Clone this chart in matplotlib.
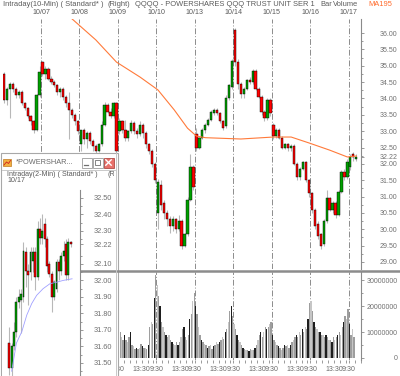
import numpy as np
import matplotlib
matplotlib.use("Agg")
import matplotlib.pyplot as plt
from matplotlib.patches import Rectangle
from matplotlib.ticker import FixedLocator, FuncFormatter
from matplotlib.transforms import Bbox

plt.rcParams['font.family'] = ['Liberation Sans', 'DejaVu Sans']

# ---- main chart: 30-min candles, 10/06 .. 10/17 (13 per day) ----
day_labels = ['10/07', '10/08', '10/09', '10/10', '10/13', '10/14', '10/15', '10/16', '10/17']

opens = [34.75, 33.95, 34.30, 34.45, 34.30, 34.10, 34.20, 33.85, 33.70, 33.45, 33.30, 33.05, 34.10,
         35.10, 34.75, 34.90, 34.60, 34.50, 34.40, 34.20, 34.30, 34.05, 33.85, 33.65, 33.50, 33.30,
         32.60, 33.05, 32.75, 32.95, 32.70, 32.55, 32.40, 32.60, 33.20, 33.80, 33.60, 33.45, 33.85,
         33.00, 33.30, 33.05, 32.80, 33.00, 33.25, 33.00, 32.90, 33.20, 32.95, 32.60, 32.40, 32.00,
         30.50, 31.35, 30.80, 30.50, 30.30, 30.10, 30.30, 30.00, 30.25, 29.50, 29.85, 30.90, 31.90,
         32.90, 32.50, 32.80, 33.05, 33.20, 33.35, 33.55, 33.65, 33.55, 33.30, 33.15, 34.00, 34.35,
         36.10, 35.10, 34.45, 34.15, 34.30, 34.55, 34.50, 34.85, 34.30, 34.05, 33.60, 33.40, 33.95,
         33.20, 32.85, 33.05, 32.80, 32.50, 32.60, 32.50, 32.55, 32.00, 31.60, 31.85, 32.05, 31.50,
         31.10, 30.60, 30.15, 29.85, 29.55, 30.25, 30.95, 30.60, 30.80, 30.45, 31.15, 31.75, 31.60,
         31.90, 32.30, 32.15]
highs = [34.80, 34.35, 34.50, 34.50, 34.35, 34.25, 34.25, 33.90, 33.75, 33.50, 33.35, 34.15, 35.00,
         35.15, 35.00, 34.95, 34.70, 34.55, 34.45, 34.35, 34.35, 34.10, 34.20, 33.70, 33.55, 33.35,
         33.05, 33.10, 33.00, 33.00, 32.75, 32.60, 32.65, 33.30, 33.90, 33.85, 33.70, 33.90, 33.90,
         33.40, 33.35, 33.35, 33.05, 33.35, 33.30, 33.10, 33.30, 33.25, 33.00, 32.65, 32.45, 32.05,
         31.55, 31.50, 30.90, 30.60, 30.40, 30.40, 30.35, 30.45, 30.30, 29.90, 31.00, 32.30, 31.95,
         33.10, 32.85, 33.10, 33.25, 33.40, 33.65, 33.70, 33.70, 33.60, 33.35, 34.10, 34.45, 35.20,
         36.15, 35.20, 34.50, 34.35, 34.60, 34.65, 34.90, 34.90, 34.35, 34.10, 33.65, 34.00, 34.00,
         33.25, 33.10, 33.10, 32.85, 32.65, 32.65, 32.60, 32.60, 32.05, 31.90, 32.10, 32.10, 31.55,
         31.15, 30.65, 30.25, 29.90, 30.30, 31.20, 31.00, 30.85, 30.85, 31.20, 31.80, 31.85, 32.15,
         32.30, 32.35, 32.30]
lows = [33.85, 33.80, 33.40, 34.20, 34.00, 34.00, 33.80, 33.65, 33.40, 33.20, 32.95, 33.00, 34.05,
        34.70, 34.60, 34.55, 34.45, 34.35, 34.10, 34.05, 33.95, 33.75, 32.75, 33.40, 33.20, 32.90,
        32.40, 32.60, 32.50, 32.60, 32.40, 32.30, 32.35, 32.55, 33.15, 33.55, 33.40, 33.40, 32.30,
        32.90, 32.95, 32.70, 32.70, 32.95, 32.90, 32.80, 32.85, 32.80, 32.50, 32.30, 31.90, 31.40,
        30.00, 30.60, 30.30, 30.10, 29.90, 29.95, 29.90, 29.95, 29.40, 29.45, 29.80, 30.85, 31.20,
        32.40, 32.45, 32.75, 32.95, 33.15, 33.30, 33.50, 33.50, 33.25, 33.05, 33.10, 33.95, 34.30,
        35.00, 34.30, 34.00, 34.00, 34.25, 34.45, 34.45, 34.25, 34.00, 33.50, 33.30, 33.35, 33.45,
        32.75, 32.80, 32.75, 32.45, 32.45, 32.40, 32.40, 31.95, 31.50, 31.50, 31.80, 31.45, 31.00,
        30.50, 30.00, 29.70, 29.40, 29.50, 30.20, 30.55, 30.50, 30.35, 30.40, 31.10, 31.50, 31.55,
        31.80, 32.10, 32.10]
closes = [33.95, 34.30, 34.45, 34.30, 34.10, 34.20, 33.85, 33.70, 33.45, 33.30, 33.05, 34.10, 34.80,
          34.75, 34.90, 34.60, 34.50, 34.40, 34.20, 34.30, 34.05, 33.85, 33.65, 33.50, 33.30, 33.00,
          33.05, 32.75, 32.95, 32.70, 32.55, 32.40, 32.60, 33.20, 33.80, 33.60, 33.45, 33.85, 32.40,
          33.30, 33.05, 32.80, 33.00, 33.25, 33.00, 32.90, 33.20, 32.95, 32.60, 32.40, 32.00, 31.50,
          31.45, 30.75, 30.50, 30.30, 30.10, 30.30, 30.00, 30.25, 29.50, 29.85, 30.90, 31.90, 31.30,
          32.50, 32.80, 33.05, 33.20, 33.35, 33.60, 33.65, 33.55, 33.30, 33.10, 34.00, 34.40, 35.15,
          35.10, 34.45, 34.15, 34.30, 34.55, 34.50, 34.85, 34.30, 34.05, 33.60, 33.40, 33.95, 33.55,
          32.85, 33.05, 32.80, 32.50, 32.60, 32.50, 32.55, 32.00, 31.60, 31.85, 32.05, 31.50, 31.10,
          30.60, 30.10, 29.80, 29.50, 30.25, 30.95, 30.60, 30.80, 30.45, 31.15, 31.75, 31.60, 32.05,
          32.20, 32.20, 32.22]

# MA195 (orange line), read at a few bar positions
ma_idx = [23, 31, 38, 46, 52, 57.5, 62, 65, 68, 80, 91, 97, 103, 110, 116, 119]
ma_val = [36.43, 35.79, 35.11, 34.65, 34.26, 33.65, 33.09, 32.85, 32.80, 32.76, 32.82, 32.82,
          32.64, 32.42, 32.21, 32.24]

# volume in millions, 15-min bars, 10/09 .. 10/17 (earlier days sit behind the small window)
vol_first_day = 3
volume_m = [14, 10, 8, 7, 9, 7, 6, 8, 10, 5, 4.5, 3.5, 4, 3.5, 4, 5.5, 4.5, 4, 4, 3.5, 5, 12, 14, 13, 23, 32,
            28, 24, 20, 14, 12, 10, 9, 8, 9, 7, 6, 5.5, 5, 6, 5, 6, 8, 11, 12, 8, 7, 9, 15, 17, 22, 25,
            20, 17, 12, 9, 7, 6, 5.5, 5, 4, 4.5, 5, 3.5, 4.5, 5, 6, 5.5, 6, 7, 8, 7.5, 10, 11, 14, 18, 20, 16,
            13, 11, 9, 7, 6, 5, 4, 3.5, 3, 3, 2.5, 3.5, 3, 3, 4, 5, 7, 9, 10, 8, 10, 12, 11, 12, 13, 14,
            9, 7, 6, 5, 4.5, 4, 3, 4, 5, 4.5, 5, 4, 5, 6, 7, 8, 9, 8, 10, 9, 11, 10, 12, 11, 15, 21,
            22, 18, 14, 12, 11, 10, 10, 9, 9, 8, 9, 8, 7, 7, 6, 8, 7, 8, 9, 10, 9, 12, 14, 16, 15, 19,
            13, 9, 11, 8]

price_ticks = [29.0, 29.5, 30.0, 30.5, 31.0, 31.5, 32.0, 32.22, 32.5, 33.0, 33.5, 34.0, 34.5, 35.0, 35.5, 36.0]
vol_ticks = [0, 10, 20, 30]

# ---- small window: 2-min candles of 10/17 ----
ins_open = [31.62, 31.47, 31.60, 31.69, 31.87, 31.88, 31.90, 32.17, 32.06, 32.05, 32.12, 32.17, 32.02, 32.31,
            32.26, 32.34, 32.25, 32.10, 32.04, 31.90, 31.95, 32.11, 32.06, 32.15, 32.22, 32.03, 32.23]
ins_high = [31.72, 31.62, 31.75, 31.90, 31.95, 31.95, 32.23, 32.20, 32.10, 32.20, 32.20, 32.20, 32.36, 32.38,
            32.40, 32.38, 32.27, 32.12, 32.06, 32.00, 32.13, 32.13, 32.17, 32.24, 32.25, 32.26, 32.24]
ins_low = [31.43, 31.42, 31.58, 31.66, 31.83, 31.68, 31.87, 31.96, 31.85, 32.00, 32.05, 31.94, 32.00, 32.22,
           32.22, 32.20, 32.05, 32.02, 31.81, 31.88, 31.93, 32.00, 32.03, 32.12, 32.00, 32.00, 32.20]
ins_close = [31.47, 31.60, 31.69, 31.87, 31.90, 31.92, 32.18, 32.06, 32.03, 32.17, 32.17, 32.02, 32.31, 32.26,
             32.30, 32.25, 32.09, 32.04, 31.90, 31.99, 32.11, 32.06, 32.15, 32.18, 32.03, 32.23, 32.22]
ins_ma_idx = [1, 3, 5.3, 7.4, 9.5, 11.6, 14.3, 17.2, 20.2, 22.8, 26.6]
ins_ma_val = [31.45, 31.62, 31.69, 31.79, 31.86, 31.91, 31.95, 31.98, 31.99, 32.00, 32.01]
ins_ticks = [31.5, 31.6, 31.7, 31.8, 31.9, 32.0, 32.1, 32.22, 32.3, 32.4, 32.5]

W, H = 400, 376
TXT = '#5a5a5a'
AXC = '#8a8a8a'


def box(l, t, r, b):
    return [l / W, 1 - b / H, (r - l) / W, (b - t) / H]


def candles(ax, x, o, h, l, c, width, min_body):
    o, h, l, c = map(np.asarray, (o, h, l, c))
    up = c >= o
    ax.vlines(x, l, h, color='#b8b8b8', lw=0.8, zorder=2)
    body = np.maximum(np.abs(c - o), min_body)
    cols = np.where(up, '#00a000', '#ff0000')
    ax.bar(x, body, width, bottom=np.minimum(o, c), color=cols,
           edgecolor='black', linewidth=0.3, zorder=3)


def right_axis(ax, fmt, pad):
    ax.yaxis.tick_right()
    for s in ['top', 'left', 'bottom']:
        ax.spines[s].set_visible(False)
    ax.spines['right'].set_color(AXC)
    ax.spines['right'].set_linewidth(0.8)
    ax.tick_params(axis='y', which='both', direction='out', colors=AXC, labelcolor='#707070',
                   labelsize=5, pad=pad, length=1.8, width=0.6)
    ax.tick_params(axis='y', which='minor', length=1.2)
    ax.yaxis.set_major_formatter(FuncFormatter(fmt))
    for lab in ax.get_yticklabels():
        lab.set_horizontalalignment('right')


fig = plt.figure(figsize=(W / 100, H / 100), dpi=100)
fig.patch.set_facecolor('white')

x_main = np.arange(len(closes))
seps = [13 * d - 0.5 for d in range(1, len(day_labels) + 1)]
xlim = (-0.34, 120.6)

# price panel
ax1 = fig.add_axes(box(3, 19, 361, 269))
ax1.set_xlim(*xlim)
ax1.set_ylim(28.786, 36.428)
candles(ax1, x_main, opens, highs, lows, closes, 0.78, 0.02)
ax1.plot(ma_idx, ma_val, color='#ff7a3a', lw=0.8, zorder=4)
for s in seps:
    ax1.axvline(s, color='#8c8c8c', lw=0.7, ls=(0, (6, 2, 1, 2)), zorder=1)
for s, lab in zip(seps, day_labels):
    ax1.text(s, 1.024, lab, transform=ax1.get_xaxis_transform(), ha='center', va='center',
             fontsize=5.1, color=TXT)
ax1.set_xticks([])
ax1.yaxis.set_major_locator(FixedLocator(price_ticks))
ax1.yaxis.set_minor_locator(FixedLocator(np.arange(29.0, 36.01, 0.25)))
right_axis(ax1, lambda v, p: f'{v:.2f}', 24.5)

# volume panel
ax2 = fig.add_axes(box(3, 272, 361, 360))
ax2.set_xlim(*xlim)
ax2.set_ylim(-0.77, 33.08)
vol = np.asarray(volume_m, dtype=float)
j = np.arange(len(vol))
x_vol = 13 * vol_first_day - 0.5 + 0.25 + 0.5 * j
vcols = np.where(j % 4 == 0, '#1e1e1e', np.where(j % 4 == 2, '#c6c6c6', '#9e9e9e'))
ax2.bar(x_vol, vol, 0.45, color=vcols, linewidth=0, zorder=2)
for s in seps:
    ax2.axvline(s, color='#8c8c8c', lw=0.7, ls=(0, (6, 2, 1, 2)), zorder=1)
# time labels only where they are not hidden by the small window
major_x = []
major_lab = []
for d in range(vol_first_day, 10):
    b = 13 * d - 0.5
    major_x.append(b)
    major_lab.append('9:30')
    if d < 9:
        major_x.append(b + 8)
        major_lab.append('13:30')
ax2.set_xticks(major_x)
ax2.set_xticklabels(major_lab)
ax2.xaxis.set_minor_locator(FixedLocator([13 * d - 0.5 + 2 * k for d in range(10) for k in range(7)]))
ax2.tick_params(axis='x', which='both', direction='out', length=2.2, width=0.6, colors=AXC,
                labelcolor='#6a6a6a', labelsize=5, pad=2)
ax2.yaxis.set_major_locator(FixedLocator(vol_ticks))
ax2.yaxis.set_minor_locator(FixedLocator([5, 15, 25]))
right_axis(ax2, lambda v, p: f'{int(round(v * 1e6))}', 24.5)

# overlay for header texts and the small window frame
ov = fig.add_axes([0, 0, 1, 1], zorder=5)
ov.set_xlim(0, W)
ov.set_ylim(H, 0)
ov.axis('off')
ov.patch.set_visible(False)

ov.plot([3, 400], [270.5, 270.5], color='#8c8c8c', lw=1.8, solid_capstyle='butt')
hdr = dict(fontsize=5.4, color=TXT, va='center', ha='left')
ov.text(3, 5, 'Intraday(10-Min) ( Standard* )', **hdr)
ov.text(108, 5, '(Right)', **hdr)
ov.text(135, 5, 'QQQQ - POWERSHARES QQQ TRUST UNIT SER 1', **hdr)
ov.text(320, 5, 'Bar', **hdr)
ov.text(333, 5, 'Volume', **hdr)
ov.text(368, 5, 'MA195', **dict(hdr, color='#ff6a2a'))

# small window
ov.add_patch(Rectangle((0.5, 152.5), 117, 240, facecolor='white', edgecolor='#a8a8a8', lw=0.8))
ov.plot([115.5, 115.5], [153, 376], color='#c8c8c8', lw=0.7)
ov.plot([2, 115], [169.5, 169.5], color='#c0c0c0', lw=0.6)
ov.add_patch(Rectangle((3, 159), 8, 7, facecolor='#f2b040', edgecolor='#c07a20', lw=0.5))
ov.plot([4, 6.5, 8.5, 10.5], [165, 162, 163.5, 160.5], color='#d02020', lw=0.6)
ov.text(16, 162.5, '*POWERSHAR...', fontsize=5.3, color='#6a6a6a', va='center', ha='left')
ov.add_patch(Rectangle((81.5, 157.5), 10, 10, facecolor='white', edgecolor='#9a9a9a', lw=0.6))
ov.plot([84, 88], [165, 165], color='#707070', lw=0.9)
ov.add_patch(Rectangle((92.5, 157.5), 10, 10, facecolor='white', edgecolor='#9a9a9a', lw=0.6))
ov.add_patch(Rectangle((94.8, 160), 5.4, 5, facecolor='none', edgecolor='#707070', lw=0.6))
ov.add_patch(Rectangle((103.5, 157.5), 10, 10, facecolor='#e8706a', edgecolor='#b04a44', lw=0.6))
ov.plot([105.8, 111.2], [159.8, 165.2], color='white', lw=1.0)
ov.plot([105.8, 111.2], [165.2, 159.8], color='white', lw=1.0)
sub = dict(fontsize=5.1, color=TXT, va='center', ha='left')
ov.text(7, 174, 'Intraday(2-Min) ( Standard* )', **sub)
t = ov.text(107, 174, '(Right)', clip_on=True, **sub)
t.set_clip_box(Bbox([[0, 0], [114, H]]))
ov.text(7, 181, '10/17', **sub)

# small window chart
ax3 = fig.add_axes(box(2, 190, 80, 376), zorder=6)
ax3.set_xlim(-3.1, 29.96)
ax3.set_ylim(31.421, 32.548)
candles(ax3, np.arange(len(ins_close)), ins_open, ins_high, ins_low, ins_close, 0.8, 0.006)
ax3.plot(ins_ma_idx, ins_ma_val, color='#a0a0ff', lw=0.6, zorder=4)
ax3.set_xticks([])
ax3.yaxis.set_major_locator(FixedLocator(ins_ticks))
ax3.yaxis.set_minor_locator(FixedLocator(np.arange(31.45, 32.55, 0.1)))
right_axis(ax3, lambda v, p: f'{v:.2f}', 21.5)
ax3.tick_params(axis='y', labelsize=5.3)

fig.savefig('out.png', dpi=100, facecolor='white')
